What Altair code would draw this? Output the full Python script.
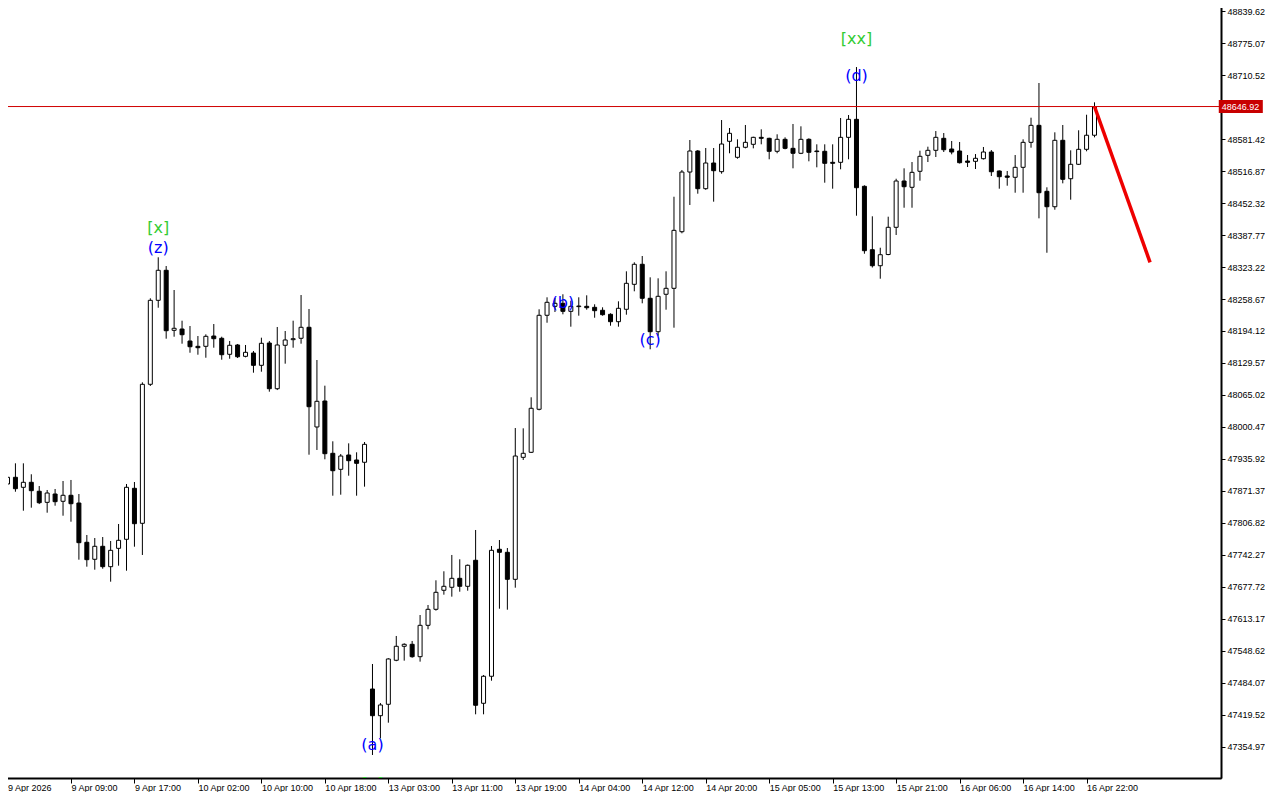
import altair as alt
import pandas as pd

# ---------------- data (hourly candles) ----------------
opens = [47885.5, 47899.0, 47878.8, 47888.9, 47870.8, 47848.5, 47865.3, 47850.6, 47862.7, 47847.1,
         47767.9, 47733.6, 47759.8, 47718.7, 47755.7, 47773.9, 47876.8, 47806.2, 48086.6, 48256.0,
         48316.6, 48195.5, 48198.1, 48173.9, 48163.2, 48163.2, 48184.0, 48179.4, 48147.1, 48165.9,
         48143.0, 48149.7, 48124.9, 48169.9, 48077.7, 48165.3, 48176.6, 48179.4, 48201.6, 48000.5,
         48052.9, 47947.4, 47915.1, 47944.0, 47933.9, 47929.3, 47471.9, 47418.1, 47441.1, 47529.9,
         47558.1, 47562.1, 47537.1, 47600.4, 47632.7, 47671.1, 47677.1, 47695.2, 47679.1, 47731.6,
         47443.1, 47497.6, 47753.8, 47747.7, 47693.2, 47939.3, 47949.4, 48036.2, 48225.8, 48243.9,
         48250.0, 48233.8, 48243.3, 48243.9, 48241.9, 48235.9, 48227.8, 48212.9, 48237.9, 48288.3,
         48328.7, 48260.1, 48192.7, 48268.2, 48280.2, 48394.4, 48514.8, 48557.2, 48481.2, 48533.0,
         48515.5, 48576.8, 48544.5, 48564.7, 48570.7, 48584.8, 48582.8, 48556.6, 48580.8, 48562.6,
         48552.6, 48580.8, 48557.2, 48556.6, 48534.4, 48534.4, 48584.8, 48621.1, 48486.0, 48358.1,
         48325.8, 48348.4, 48403.3, 48496.7, 48484.0, 48516.3, 48548.5, 48558.6, 48582.8, 48561.2,
         48557.2, 48537.0, 48536.4, 48541.7, 48555.2, 48516.9, 48506.8, 48504.2, 48524.3, 48574.7,
         48609.0, 48475.9, 48444.8, 48578.8, 48501.3, 48530.4, 48560.6, 48589.0]

closes = [47899.0, 47876.0, 47888.9, 47872.0, 47847.7, 47867.3, 47849.8, 47862.7, 47845.7, 47767.1,
          47732.8, 47759.8, 47718.7, 47751.7, 47771.9, 47878.8, 47805.4, 48086.6, 48256.0, 48316.6,
          48194.7, 48199.6, 48186.6, 48162.4, 48160.4, 48183.4, 48178.6, 48146.3, 48165.3, 48142.2,
          48151.1, 48124.9, 48169.3, 48077.7, 48165.9, 48176.0, 48178.6, 48201.6, 48041.4, 48052.3,
          47946.6, 47912.3, 47941.9, 47932.5, 47927.2, 47965.5, 47418.1, 47439.7, 47532.5, 47558.1,
          47562.1, 47537.1, 47600.4, 47632.7, 47667.0, 47679.1, 47695.2, 47679.1, 47721.5, 47439.1,
          47497.6, 47751.7, 47747.7, 47693.2, 47941.9, 47947.4, 48038.2, 48225.8, 48252.0, 48250.0,
          48233.8, 48243.9, 48244.5, 48241.1, 48235.1, 48227.0, 48212.9, 48239.9, 48290.3, 48328.7,
          48260.1, 48192.7, 48264.1, 48280.2, 48397.2, 48514.8, 48557.2, 48481.2, 48533.0, 48517.5,
          48571.3, 48592.9, 48564.7, 48574.7, 48584.8, 48582.8, 48556.6, 48580.8, 48562.6, 48552.6,
          48580.8, 48554.6, 48556.0, 48532.4, 48532.4, 48584.8, 48621.1, 48483.2, 48356.1, 48325.8,
          48348.0, 48403.3, 48496.7, 48485.2, 48514.2, 48546.5, 48558.6, 48584.8, 48559.8, 48555.2,
          48533.6, 48534.4, 48542.5, 48555.2, 48515.4, 48505.4, 48504.2, 48524.3, 48574.7, 48609.0,
          48473.1, 48444.8, 48578.8, 48500.1, 48530.4, 48560.6, 48589.0, 48646.92]

highs = [47913.7, 47927.2, 47927.2, 47905.1, 47881.4, 47873.4, 47875.4, 47891.5, 47893.6, 47865.3,
         47782.6, 47776.5, 47778.5, 47770.5, 47804.8, 47885.5, 47889.5, 48090.6, 48260.1, 48342.8,
         48325.2, 48276.8, 48214.9, 48204.2, 48184.0, 48187.4, 48208.2, 48182.6, 48174.0, 48167.9,
         48165.9, 48153.8, 48180.6, 48174.0, 48202.2, 48194.1, 48214.9, 48266.7, 48238.5, 48135.6,
         48083.8, 47971.6, 47946.0, 47967.5, 47949.4, 47970.2, 47522.4, 47443.7, 47534.0, 47578.9,
         47564.1, 47568.8, 47621.2, 47641.4, 47691.2, 47709.4, 47742.3, 47733.6, 47723.0, 47792.7,
         47500.2, 47760.4, 47772.5, 47756.4, 47998.4, 47997.8, 48060.4, 48237.9, 48262.1, 48260.7,
         48268.2, 48255.2, 48262.1, 48266.1, 48248.0, 48241.9, 48229.8, 48254.0, 48314.5, 48332.7,
         48345.4, 48302.4, 48300.4, 48314.5, 48465.0, 48518.9, 48579.4, 48559.2, 48563.3, 48563.3,
         48619.7, 48603.6, 48580.8, 48609.7, 48586.0, 48601.0, 48584.0, 48590.9, 48584.8, 48611.7,
         48607.0, 48582.8, 48570.7, 48570.7, 48570.7, 48623.8, 48629.8, 48726.6, 48488.0, 48425.5,
         48362.1, 48424.7, 48501.3, 48522.3, 48535.0, 48557.8, 48565.9, 48597.5, 48593.5, 48577.4,
         48575.4, 48549.1, 48551.1, 48565.3, 48559.2, 48518.0, 48516.9, 48549.1, 48580.8, 48624.4,
         48694.4, 48484.0, 48594.9, 48609.7, 48558.6, 48599.0, 48630.4, 48655.4]

lows = [47873.4, 47869.9, 47831.6, 47837.7, 47845.0, 47827.6, 47841.7, 47821.5, 47809.4, 47732.8,
        47718.7, 47712.6, 47714.6, 47688.4, 47720.7, 47710.6, 47759.0, 47742.3, 48083.2, 48241.1,
        48178.6, 48182.6, 48168.5, 48150.3, 48146.3, 48140.2, 48160.4, 48136.2, 48138.2, 48139.6,
        48141.0, 48110.0, 48112.0, 48071.7, 48075.0, 48128.2, 48160.4, 48168.5, 47944.6, 47954.1,
        47935.3, 47861.9, 47863.9, 47902.2, 47861.9, 47880.1, 47338.8, 47372.5, 47404.0, 47528.0,
        47529.1, 47535.0, 47527.1, 47592.4, 47630.0, 47662.2, 47658.2, 47668.2, 47670.2, 47420.9,
        47420.9, 47488.7, 47633.9, 47631.9, 47676.3, 47933.9, 47948.0, 48034.1, 48210.8, 48232.4,
        48227.8, 48202.8, 48225.0, 48237.1, 48220.9, 48225.0, 48204.8, 48202.8, 48227.0, 48274.2,
        48250.0, 48157.2, 48184.6, 48237.1, 48200.8, 48391.2, 48448.3, 48471.1, 48479.0, 48455.0,
        48511.4, 48552.6, 48541.7, 48562.6, 48562.6, 48570.7, 48540.5, 48552.6, 48560.6, 48522.3,
        48551.0, 48536.4, 48524.3, 48493.3, 48481.2, 48520.3, 48540.5, 48426.7, 48350.0, 48322.2,
        48299.6, 48347.0, 48387.8, 48442.8, 48442.8, 48497.3, 48535.0, 48545.1, 48555.2, 48550.5,
        48532.0, 48524.9, 48520.9, 48540.0, 48506.8, 48481.2, 48487.2, 48473.1, 48473.1, 48563.9,
        48421.4, 48352.0, 48438.8, 48492.0, 48459.0, 48529.0, 48556.6, 48584.8]

x_tick_index = [0, 8, 16, 24, 32, 40, 48, 56, 64, 72, 80, 88, 96, 104, 112, 120, 128, 136]
x_tick_labels = ["9 Apr 2026", "9 Apr 09:00", "9 Apr 17:00", "10 Apr 02:00", "10 Apr 10:00",
                 "10 Apr 18:00", "13 Apr 03:00", "13 Apr 11:00", "13 Apr 19:00", "14 Apr 04:00",
                 "14 Apr 12:00", "14 Apr 20:00", "15 Apr 05:00", "15 Apr 13:00", "15 Apr 21:00",
                 "16 Apr 06:00", "16 Apr 14:00", "16 Apr 22:00"]

y_tick_values = [47354.97, 47419.52, 47484.07, 47548.62, 47613.17, 47677.72, 47742.27, 47806.82,
                 47871.37, 47935.92, 48000.47, 48065.02, 48129.57, 48194.12, 48258.67, 48323.22,
                 48387.77, 48452.32, 48516.87, 48581.42, 48710.52, 48775.07, 48839.62]

current_price = 48646.92

# wave labels
ann_index = [19, 19, 46, 46, 70, 81, 107, 107]
ann_price = [48401.9, 48361.5, 47359.0, 47279.3, 48250.6, 48176.0, 48708.5, 48783.1]
ann_text = ["[x]", "(z)", "(a)", "[y]", "(b)", "(c)", "(d)", "[xx]"]
ann_color = ["#33cc33", "#0000ff", "#0000ff", "#33cc33", "#0000ff", "#0000ff", "#0000ff", "#33cc33"]

# projected move (red line)
proj_index = [137, 144]
proj_price = [48646.92, 48332.7]

# ---------------- chart ----------------
n = len(opens)
df = pd.DataFrame({"i": list(range(n)), "open": opens, "high": highs,
                   "low": lows, "close": closes})

W, H = 1219, 776
x_dom = [-0.0625, -0.0625 + W / 8.0]
y_dom = [47292.4, 48857.8]
xs = alt.Scale(domain=x_dom, nice=False, zero=False)
ys = alt.Scale(domain=y_dom, nice=False, zero=False)

label_expr = "[" + ",".join("'%s'" % s for s in x_tick_labels) + "][round(datum.value / 8)]"

x_axis = alt.Axis(values=x_tick_index, labelExpr=label_expr, orient="bottom", title=None,
                  grid=False, tickSize=5, tickColor="black", domainColor="black", domainWidth=2,
                  labelAlign="left", labelBaseline="top", labelPadding=0,
                  labelOverlap=False, labelFlush=False, labelBound=False)
y_axis = alt.Axis(values=y_tick_values, format=".2f", orient="right", title=None, grid=False,
                  tickSize=4, tickColor="black", domainColor="black", domainWidth=2,
                  labelPadding=2, labelOverlap=False, labelFlush=False, labelBound=False)


def X(field):
    return alt.X(field, scale=xs, axis=x_axis)


def Y(field):
    return alt.Y(field, scale=ys, axis=y_axis)


wicks = alt.Chart(df).mark_rule(color="black", strokeWidth=1, clip=True).encode(
    x=X("i:Q"), y=Y("low:Q"), y2="high:Q",
)

bodies = alt.Chart(df).mark_bar(size=4, stroke="black", strokeWidth=1, clip=True).encode(
    x=X("i:Q"), y=Y("open:Q"), y2="close:Q",
    fill=alt.condition("datum.close >= datum.open", alt.value("white"), alt.value("black")),
)

price_df = pd.DataFrame({"p": [current_price]})
hline = alt.Chart(price_df).mark_rule(color="#d00000", strokeWidth=1, clip=True).encode(y=Y("p:Q"))

tag_df = pd.DataFrame({"x1": [x_dom[1] + 0.35], "x2": [x_dom[1] + 5.9],
                       "y1": [current_price - 13.0], "y2": [current_price + 13.0],
                       "p": [current_price], "t": ["48646.92"]})
tag_rect = alt.Chart(tag_df).mark_rect(color="#c80000", clip=False).encode(
    x=X("x1:Q"), x2="x2:Q", y=Y("y1:Q"), y2="y2:Q"
)
tag_text = alt.Chart(tag_df).mark_text(color="white", align="left", baseline="middle",
                                       font="Liberation Sans", fontSize=9, dx=3,
                                       clip=False).encode(
    x=X("x1:Q"), y=Y("p:Q"), text="t:N"
)

proj_df = pd.DataFrame({"i": proj_index, "p": proj_price})
proj = alt.Chart(proj_df).mark_line(color="#ee0000", strokeWidth=3.5, clip=True).encode(
    x=X("i:Q"), y=Y("p:Q")
)

ann_df = pd.DataFrame({"i": ann_index, "p": ann_price, "t": ann_text, "c": ann_color})
ann = alt.Chart(ann_df).mark_text(font="DejaVu Sans", fontSize=16, align="center",
                                  baseline="middle", clip=True).encode(
    x=X("i:Q"), y=Y("p:Q"), text="t:N",
    color=alt.Color("c:N", scale=None),
)

chart = alt.layer(wicks, bodies, hline, proj, ann, tag_rect, tag_text).properties(
    width=W, height=H,
    padding={"left": -6, "top": -6, "right": 0, "bottom": 0},
    background="white",
).configure_view(stroke="black", strokeWidth=1).configure_axis(
    labelFont="Liberation Sans", labelFontSize=9, labelColor="black", labelOverlap=False
)

chart.save("out.html", embed_options={"renderer": "svg", "actions": False})
